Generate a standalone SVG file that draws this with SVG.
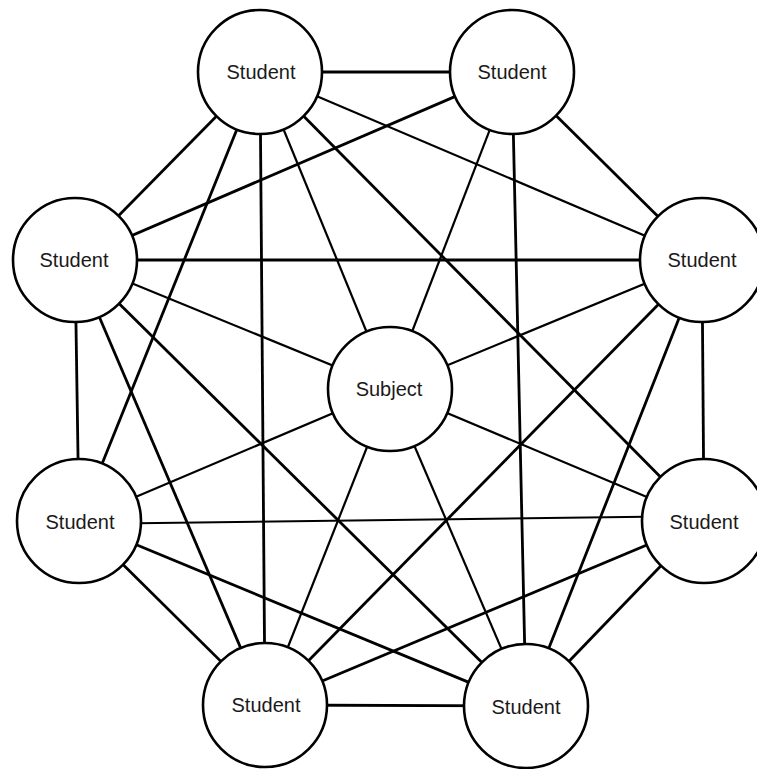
<svg xmlns="http://www.w3.org/2000/svg" width="757" height="769" viewBox="0 0 757 769">
<style>
.e{stroke:#000;stroke-width:2.8;stroke-linecap:butt}
.s{stroke:#000;stroke-width:2.2;stroke-linecap:butt}
.n{fill:#fff;stroke:#000;stroke-width:2.6}
.t{font-family:"Liberation Sans",Arial,sans-serif;font-size:20px;fill:#1a1a1a;text-anchor:middle;dominant-baseline:central}
</style>
<rect width="757" height="769" fill="#fff"/>
<g id="connectors">
<line class="e" x1="260" y1="72" x2="512" y2="72"/>
<line class="s" x1="260" y1="72" x2="702" y2="260"/>
<line class="e" x1="260" y1="72" x2="704" y2="521"/>
<line class="e" x1="260" y1="72" x2="265" y2="705"/>
<line class="e" x1="260" y1="72" x2="79" y2="521"/>
<line class="e" x1="260" y1="72" x2="75" y2="260"/>
<line class="s" x1="260" y1="72" x2="390" y2="389"/>
<line class="e" x1="512" y1="72" x2="702" y2="260"/>
<line class="e" x1="512" y1="72" x2="526" y2="706"/>
<line class="e" x1="512" y1="72" x2="75" y2="260"/>
<line class="s" x1="512" y1="72" x2="390" y2="389"/>
<line class="e" x1="702" y1="260" x2="704" y2="521"/>
<line class="e" x1="702" y1="260" x2="526" y2="706"/>
<line class="e" x1="702" y1="260" x2="265" y2="705"/>
<line class="e" x1="702" y1="260" x2="75" y2="260"/>
<line class="s" x1="702" y1="260" x2="390" y2="389"/>
<line class="e" x1="704" y1="521" x2="526" y2="706"/>
<line class="e" x1="704" y1="521" x2="265" y2="705"/>
<line class="s" x1="704" y1="516" x2="79" y2="524"/>
<line class="s" x1="704" y1="521" x2="390" y2="389"/>
<line class="e" x1="526" y1="706" x2="265" y2="705"/>
<line class="e" x1="526" y1="706" x2="79" y2="521"/>
<line class="e" x1="526" y1="706" x2="75" y2="260"/>
<line class="s" x1="526" y1="706" x2="390" y2="389"/>
<line class="e" x1="265" y1="705" x2="79" y2="521"/>
<line class="e" x1="265" y1="705" x2="75" y2="260"/>
<line class="s" x1="265" y1="705" x2="390" y2="389"/>
<line class="e" x1="79" y1="521" x2="75" y2="260"/>
<line class="s" x1="79" y1="521" x2="390" y2="389"/>
<line class="s" x1="75" y1="260" x2="390" y2="389"/>
</g>
<g id="subject"><circle class="n" cx="390" cy="389" r="62"/><text class="t" x="389" y="389">Subject</text></g>
<g id="student-a"><circle class="n" cx="260" cy="72" r="62"/><text class="t" x="261" y="72">Student</text></g>
<g id="student-b"><circle class="n" cx="512" cy="72" r="62"/><text class="t" x="512" y="72">Student</text></g>
<g id="student-c"><circle class="n" cx="75" cy="260" r="62"/><text class="t" x="74" y="260">Student</text></g>
<g id="student-d"><circle class="n" cx="702" cy="260" r="62"/><text class="t" x="702" y="260">Student</text></g>
<g id="student-f"><circle class="n" cx="79" cy="521" r="62"/><text class="t" x="80" y="522">Student</text></g>
<g id="student-g"><circle class="n" cx="704" cy="521" r="62"/><text class="t" x="704" y="522">Student</text></g>
<g id="student-h"><circle class="n" cx="265" cy="705" r="62"/><text class="t" x="266" y="705">Student</text></g>
<g id="student-i"><circle class="n" cx="526" cy="706" r="62"/><text class="t" x="526" y="707">Student</text></g>
</svg>
